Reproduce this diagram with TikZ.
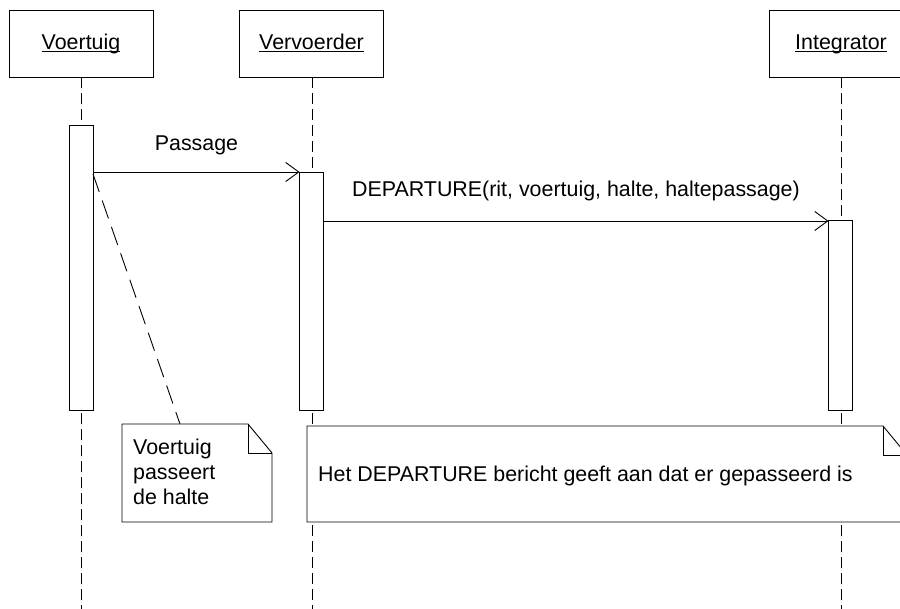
\documentclass[tikz,border=0pt]{standalone}
\usepackage{fontspec}
\setmainfont{Liberation Sans}
\usetikzlibrary{arrows.meta}
\begin{document}
\begin{tikzpicture}[x=1pt,y=-1pt,
  every node/.style={font=\fontsize{21.4}{24.8}\selectfont},
  obj/.style={draw, line width=0.9pt, minimum width=144pt, minimum height=67pt, inner sep=0pt, fill=white},
  lbl/.style={inner sep=0pt, anchor=base},
  ul/.style={line width=1.1pt},
  life/.style={line width=0.9pt, dash pattern=on 11pt off 5pt},
  act/.style={draw, line width=0.9pt, fill=white, minimum width=24pt, inner sep=0pt},
  msg/.style={line width=0.9pt, -{Straight Barb[length=13pt,width=19pt,line width=0.9pt]}},
  notebox/.style={draw, line width=0.9pt, fill=white, line join=miter},
  anchorline/.style={line width=0.9pt, dash pattern=on 19pt off 9pt}]
\useasboundingbox (0,0) rectangle (900,609);
\clip (0,0) rectangle (900,609);

% object boxes
\node[obj] (vo) at (81,43.5) {};
\node[obj] (ve) at (311.5,43.5) {};
\node[obj] (in) at (841,43.5) {};
\node[lbl] (vot) at (81,49.5) {Voertuig};
\node[lbl] (vet) at (311.5,49.5) {Vervoerder};
\node[lbl] (int) at (841,49.5) {Integrator};
\draw[ul] ([yshift=-2.2pt]vot.base west) -- ([yshift=-2.2pt]vot.base east);
\draw[ul] ([yshift=-2.2pt]vet.base west) -- ([yshift=-2.2pt]vet.base east);
\draw[ul] ([yshift=-2.2pt]int.base west) -- ([yshift=-2.2pt]int.base east);

% lifelines
\coordinate (voEnd) at (81,609);
\coordinate (veEnd) at (312,609);
\coordinate (inEnd) at (841,609);
\draw[life] (81,77) -- (voEnd);
\draw[life] (312,77) -- (veEnd);
\draw[life] (841,77) -- (inEnd);

% activations
\node[act, minimum height=285pt] (a1) at (81,267.5) {};
\node[act, minimum height=238pt] (a2) at (311.5,291) {};
\node[act, minimum height=190pt] (a3) at (840.5,315) {};

% messages
\coordinate (m1s) at (93,172);
\coordinate (m1e) at (299.5,172);
\coordinate (m2s) at (323.5,221);
\coordinate (m2e) at (828.5,221);
\draw[msg] (m1s) -- (m1e);
\draw[msg] (m2s) -- (m2e);
\node[lbl] (m1l) at (196.5,151) {Passage};
\node[lbl] (m2l) at (576,197) {DEPARTURE(rit, voertuig, halte, haltepassage)};

% note anchor
\coordinate (n1a) at (93,174);
\coordinate (n1b) at (180,424);
\draw[anchorline] (n1a) -- (n1b);

% note 1
\draw[notebox] (122,424) -- (248,424) -- (272,453) -- (272,522) -- (122,522) -- cycle;
\draw[line width=0.9pt] (248,424) -- (248,453) -- (272,453);
\node[inner sep=0pt, anchor=north west, align=left] (n1t) at (133,439) {Voertuig\\passeert\\de halte};

% note 2
\draw[notebox] (307,426) -- (883,426) -- (907,455) -- (907,522) -- (307,522) -- cycle;
\draw[line width=0.9pt] (883,426) -- (883,455) -- (907,455);
\node[inner sep=0pt, anchor=base west] (n2t) at (318,482) {Het DEPARTURE bericht geeft aan dat er gepasseerd is};
\end{tikzpicture}
\end{document}
